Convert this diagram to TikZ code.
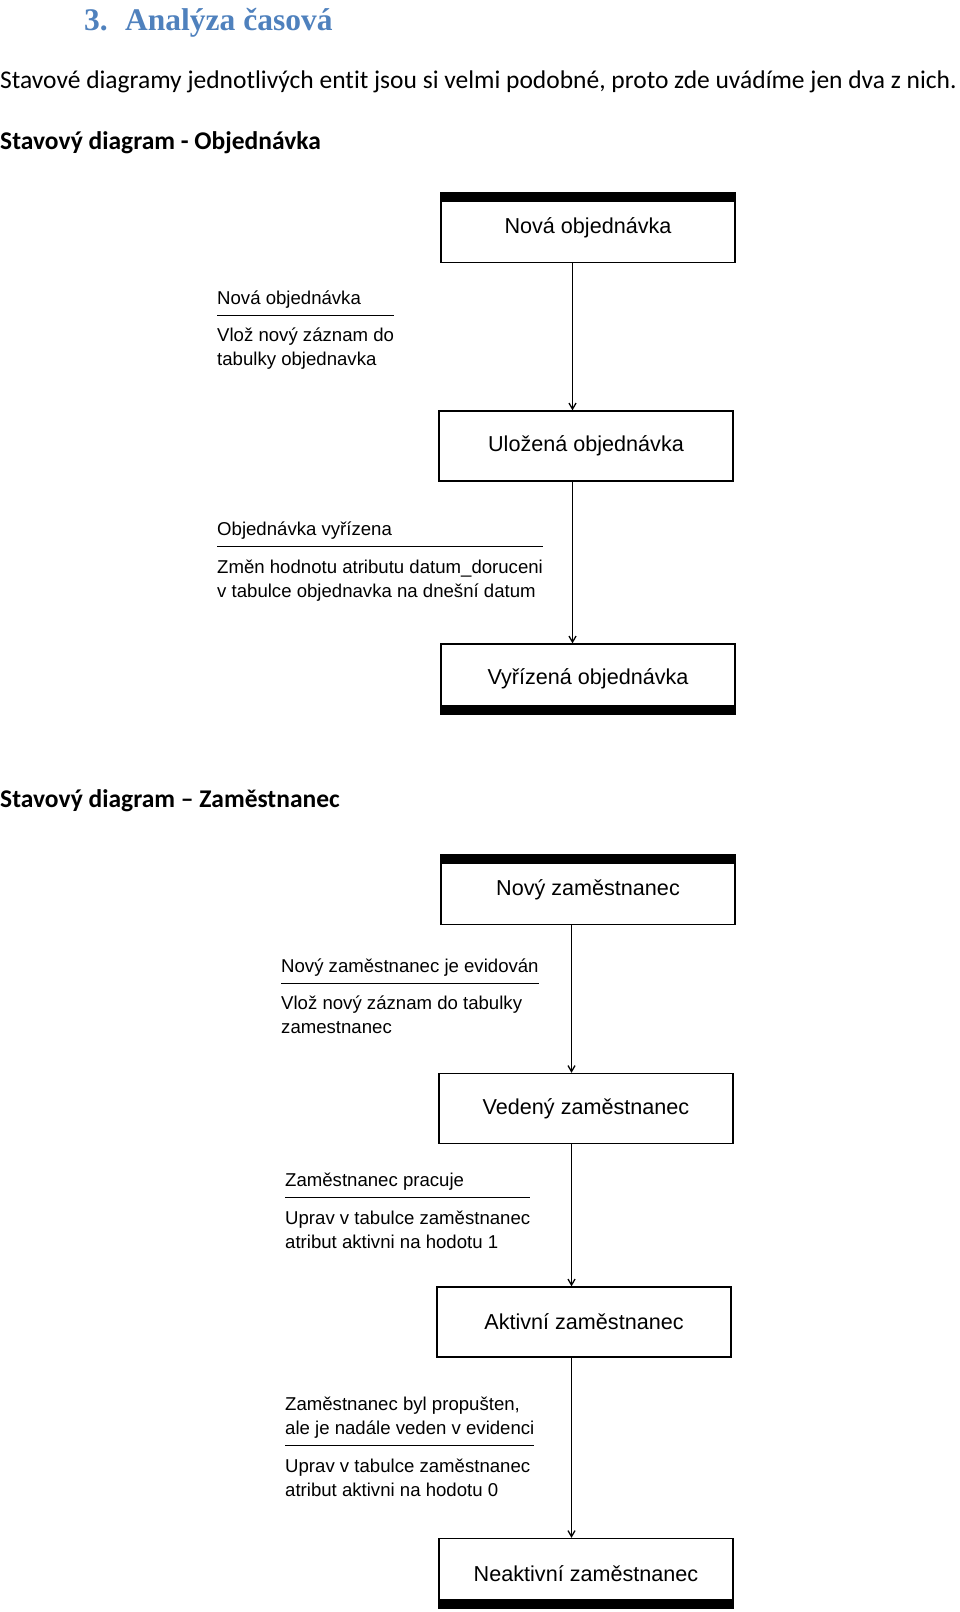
\documentclass[tikz,border=0pt]{standalone}
\usepackage{fontspec}
\setmainfont{Carlito}[Ligatures=CommonOff]
\newfontfamily\umlfont{Liberation Sans}
\newfontfamily\titlefont{Liberation Serif}
\usetikzlibrary{arrows.meta, positioning, calc}
\definecolor{HeadingBlue}{RGB}{79,129,189}
\setlength{\arrayrulewidth}{1.2pt}

% guard above the rule, action below it
\newcommand{\transtext}[2]{\begin{tabular}[t]{@{}l@{}}#1\\[3.3pt]\hline\rule{0pt}{26pt}#2\end{tabular}}

\begin{document}
\begin{tikzpicture}[
    x=1pt, y=-1pt,
    statebox/.style={draw, line width=1.3pt, minimum width=294pt, minimum height=70pt,
        inner sep=0pt, font=\umlfont\fontsize{21.6}{26}\selectfont},
    translabel/.style={anchor=base west, inner sep=0pt,
        font=\umlfont\fontsize{18.6}{24}\selectfont},
    doctext/.style={anchor=base west, inner sep=0pt, font=\fontsize{25.5}{30}\selectfont},
    flow/.style={line width=1.3pt, -{Straight Barb[length=6pt, width=7pt]}},
]
\useasboundingbox (0,0) rectangle (960,1612);

% nadpisy a text
\node[anchor=base west, inner sep=0pt, text=HeadingBlue,
    font=\titlefont\bfseries\fontsize{31.5}{36}\selectfont] (title) at (84,30) {\makebox[41pt][l]{3.}Analýza časová};
\node[doctext] (intro) at (0,88) {Stavové diagramy jednotlivých entit jsou si velmi podobné, proto zde uvádíme jen dva z nich.};
\node[doctext, font=\bfseries\fontsize{25.5}{30}\selectfont] (head1) at (0,149) {Stavový diagram - Objednávka};
\node[doctext, font=\bfseries\fontsize{25.5}{30}\selectfont] (head2) at (0,807) {Stavový diagram – Zaměstnanec};

% stavy
\foreach \name/\x/\y/\lbl in {%
    o1/588/227.5/Nová objednávka,
    o2/586/446/Uložená objednávka,
    o3/588/679/Vyřízená objednávka,
    z1/588/889.5/Nový zaměstnanec,
    z2/586/1108.5/Vedený zaměstnanec,
    z3/584/1322/Aktivní zaměstnanec,
    z4/586/1573.5/Neaktivní zaměstnanec%
}{
    \node[statebox] (\name) at (\x,\y) {\lbl};
}

% počáteční a koncové pruhy
\fill (o1.north west) rectangle ([yshift=-10pt]o1.north east);
\fill (z1.north west) rectangle ([yshift=-10pt]z1.north east);
\fill ([yshift=10pt]o3.south west) rectangle (o3.south east);
\fill ([yshift=10pt]z4.south west) rectangle (z4.south east);

% přechody
\coordinate (col1) at (572.5,0);
\coordinate (col2) at (571.5,0);
\foreach \a/\b in {o1/o2, o2/o3}
    \draw[flow] (\a.south -| col1) -- (\b.north -| col1);
\foreach \a/\b in {z1/z2, z2/z3, z3/z4}
    \draw[flow] (\a.south -| col2) -- (\b.north -| col2);

% popisy přechodů
\node[translabel] (t1) at (217,304) {\transtext{Nová objednávka}{Vlož nový záznam do\\tabulky objednavka}};
\node[translabel] (t2) at (217,535.5) {\transtext{Objednávka vyřízena}{Změn hodnotu atributu datum\_doruceni\\v tabulce objednavka na dnešní datum}};
\node[translabel] (t3) at (281,972) {\transtext{Nový zaměstnanec je evidován}{Vlož nový záznam do tabulky\\zamestnanec}};
\node[translabel] (t4) at (285,1186.5) {\transtext{Zaměstnanec pracuje}{Uprav v tabulce zaměstnanec\\atribut aktivni na hodotu 1}};
\node[translabel] (t5) at (285,1410.5) {\transtext{Zaměstnanec byl propušten,\\ale je nadále veden v evidenci}{Uprav v tabulce zaměstnanec\\atribut aktivni na hodotu 0}};

\end{tikzpicture}
\end{document}
